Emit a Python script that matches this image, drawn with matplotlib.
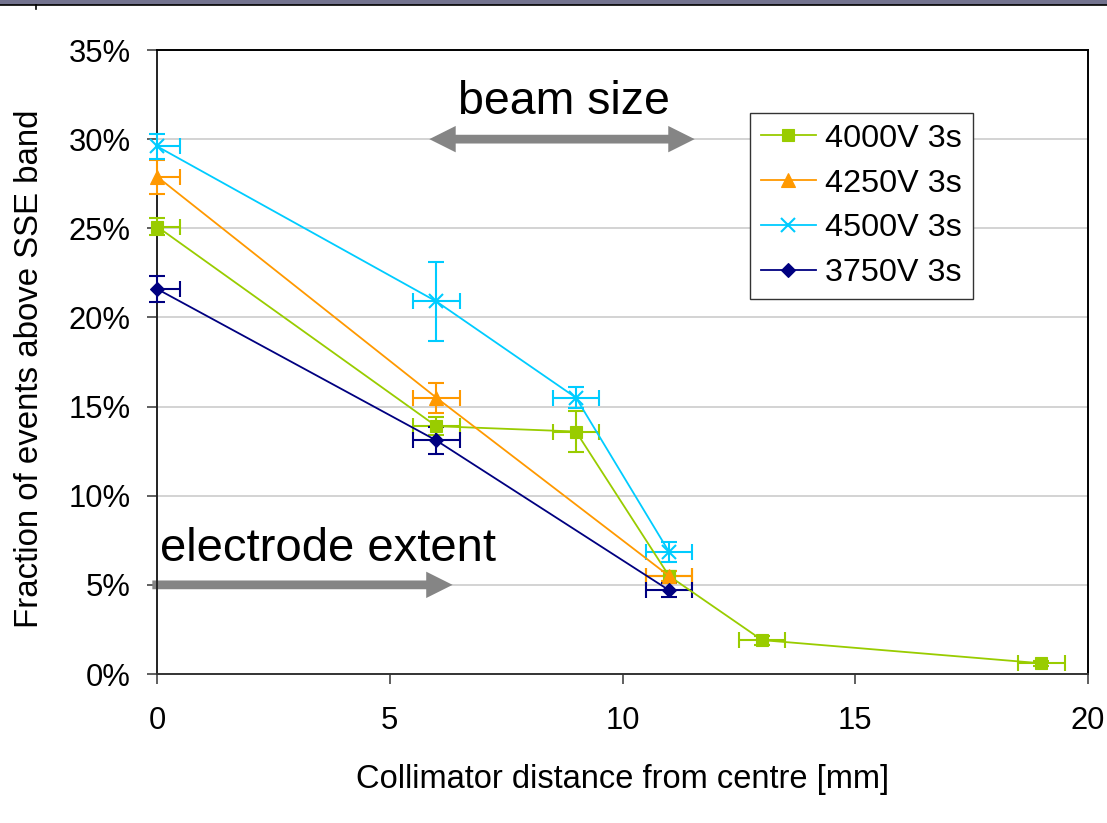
import matplotlib
matplotlib.use("Agg")
import matplotlib.pyplot as plt
from matplotlib.ticker import PercentFormatter, MultipleLocator
from matplotlib.patches import Rectangle
from matplotlib.lines import Line2D
import numpy as np

plt.rcParams['font.family'] = ['Liberation Sans', 'DejaVu Sans']

# Collimator positions [mm] and fractions [%] for each bias voltage
x_4000 = [0, 6, 9, 11, 13, 19]
y_4000 = [25.1, 13.9, 13.6, 5.5, 1.9, 0.6]
e_4000 = [0.5, 0.5, 1.15, 0.3, 0.25, 0.15]

x_4250 = [0, 6, 11]
y_4250 = [27.9, 15.5, 5.5]
e_4250 = [0.95, 0.85, 0.3]

x_4500 = [0, 6, 9, 11]
y_4500 = [29.6, 20.9, 15.5, 6.85]
e_4500 = [0.7, 2.2, 0.6, 0.55]

x_3750 = [0, 6, 11]
y_3750 = [21.6, 13.1, 4.7]
e_3750 = [0.73, 0.75, 0.4]

x_err = 0.5  # collimator position uncertainty [mm]

labels = ['4000V 3s', '4250V 3s', '4500V 3s', '3750V 3s']
colors = ['#99cc00', '#ff9900', '#00ccff', '#000080']
markers = ['s', '^', 'x', 'D']
msizes = [8.8, 10, 10, 7.5]

series = [(x_4000, y_4000, e_4000), (x_4250, y_4250, e_4250),
          (x_4500, y_4500, e_4500), (x_3750, y_3750, e_3750)]

fig = plt.figure(figsize=(11.07, 8.23), dpi=100)
ax = fig.add_axes([157/1107, 1-674/823, (1088-157)/1107, (674-50)/823])

# slide header band
fig.add_artist(Rectangle((0, 1-4.5/823), 1, 4.5/823, transform=fig.transFigure,
                         facecolor='#73738f', edgecolor='none'))
fig.add_artist(Line2D([0, 1], [1-5/823, 1-5/823], transform=fig.transFigure,
                      color='black', lw=1.2))
fig.add_artist(Line2D([36/1107, 36/1107], [1-5/823, 1-9/823], transform=fig.transFigure,
                      color='black', lw=1.2))

for (xs, ys, es), lab, c, m, ms in zip(series, labels, colors, markers, msizes):
    xs = np.asarray(xs, float)
    ys = np.asarray(ys, float)
    es = np.asarray(es, float)
    # horizontal errors: clipped at the axis limits
    ax.errorbar(xs, ys, xerr=x_err, fmt='none', ecolor=c, elinewidth=1.5,
                capsize=5.5, capthick=1.5, zorder=3)
    # vertical errors
    ax.errorbar(xs, ys, yerr=es, fmt='none', ecolor=c, elinewidth=1.5,
                capsize=5.5, capthick=1.5, zorder=3, clip_on=False)
    mew = 1.5 if m == 'x' else 0.8
    ax.plot(xs, ys, color=c, lw=1.3, marker=m, ms=ms, mec=c, mfc=c, mew=mew,
            label=lab, zorder=4, clip_on=False)

ax.set_xlim(0, 20)
ax.set_ylim(0, 35)
ax.xaxis.set_major_locator(MultipleLocator(5))
ax.yaxis.set_major_locator(MultipleLocator(5))
ax.yaxis.set_major_formatter(PercentFormatter(decimals=0))

ax.grid(axis='y', color='#c8c8c8', lw=1.1, zorder=0)
ax.set_axisbelow(True)

for s in ax.spines.values():
    s.set_color('black')
    s.set_linewidth(1.4)
ax.spines['left'].set_color('#222222')
ax.spines['bottom'].set_color('#333333')

ax.tick_params(axis='both', direction='out', length=7, width=1.2, color='#444444',
               labelsize=22.3, labelcolor='black')
ax.tick_params(axis='y', pad=12)
ax.tick_params(axis='x', pad=16)

ax.set_xlabel('Collimator distance from centre [mm]', fontsize=23.5, labelpad=20)
ax.set_ylabel('Fraction of events above SSE band', fontsize=23.8, labelpad=17, y=0.489)

# annotations
arrow_color = '#858585'
arrow_style = 'simple,head_length=19,head_width=19,tail_width=6.3'

def arrow(x0, x1, y):
    ax.annotate('', xy=(x1, y), xytext=(x0, y),
                arrowprops=dict(arrowstyle=arrow_style, color=arrow_color,
                                mutation_scale=1, shrinkA=0, shrinkB=0, lw=0),
                annotation_clip=False, zorder=2)

beam_lo, beam_hi, beam_y = 5.85, 11.55, 30.0
mid = 0.5 * (beam_lo + beam_hi)
arrow(mid, beam_lo, beam_y)
arrow(mid, beam_hi, beam_y)
ax.text(mid + 0.05, 31.4, 'beam size', fontsize=33.5, ha='center', va='baseline')

arrow(-0.1, 6.35, 5.0)
ax.text(0.07, 6.35, 'electrode extent', fontsize=34, ha='left', va='baseline')

leg = ax.legend(loc='upper left', bbox_to_anchor=(0.637, 0.899), borderaxespad=0,
                fontsize=23.3, numpoints=1, handlelength=1.7, handletextpad=0.3,
                labelspacing=0.46, borderpad=0.33, fancybox=False, framealpha=1,
                edgecolor='#333333')
leg.get_frame().set_linewidth(1.0)

fig.savefig('out.png', dpi=100)
